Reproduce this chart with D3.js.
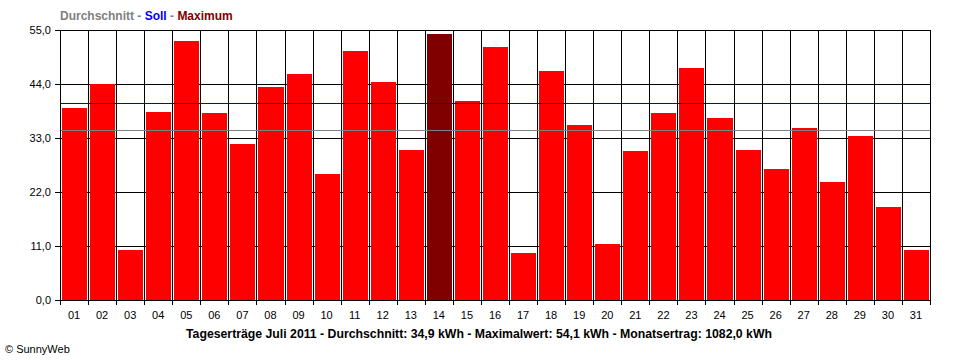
<!DOCTYPE html>
<html>
<head>
<meta charset="utf-8">
<script src="https://cdn.jsdelivr.net/npm/d3@7/dist/d3.min.js"></script>
<style>
  html, body { margin: 0; padding: 0; background: #fff; }
  svg { display: block; font-family: "Liberation Sans", Arial, sans-serif; }
</style>
</head>
<body>
<svg id="chart" width="960" height="360"></svg>
<script>
const days = ["01","02","03","04","05","06","07","08","09","10","11","12","13","14","15","16","17","18","19","20","21","22","23","24","25","26","27","28","29","30","31"];
const yields = [39.1,43.9,10.2,38.3,52.8,38.1,31.8,43.4,46.0,25.7,50.7,44.4,30.6,54.1,40.5,51.5,9.6,46.6,35.6,11.4,30.4,38.1,47.3,37.1,30.6,26.7,35.0,24.0,33.4,18.9,10.2];
const yTicks = [0, 11, 22, 33, 44, 55];
const average = 34.9;
const target = 40.0;
const maximum = 54.1;
const legendParts = [
  {text: "Durchschnitt", color: "#808080"},
  {text: " - ", color: "#808080"},
  {text: "Soll", color: "#0000ff"},
  {text: " - ", color: "#808080"},
  {text: "Maximum", color: "#800000"}
];
const title = "Tageserträge Juli 2011 - Durchschnitt: 34,9 kWh - Maximalwert: 54,1 kWh - Monatsertrag: 1082,0 kWh";
const credit = "© SunnyWeb";

const svg = d3.select("#chart");
const L = 60, R = 930, T = 30, B = 300;

const x = d3.scaleBand().domain(days).range([L, R]).padding(0);
const y = d3.scaleLinear().domain([0, 55]).range([B, T]);
const fmt = v => d3.format(".1f")(v).replace(".", ",");

// horizontal gridlines (behind bars)
svg.append("g").selectAll("line").data(yTicks).join("line")
  .attr("x1", L).attr("x2", R)
  .attr("y1", d => Math.round(y(d)) + 0.5).attr("y2", d => Math.round(y(d)) + 0.5)
  .attr("stroke", "#000").attr("stroke-width", 1);

// vertical gridlines at category boundaries
const bounds = days.map(d => x(d)).concat([R]);
svg.append("g").selectAll("line").data(bounds).join("line")
  .attr("x1", d => Math.round(d) + 0.5).attr("x2", d => Math.round(d) + 0.5)
  .attr("y1", T).attr("y2", B + 5)
  .attr("stroke", "#000").attr("stroke-width", 1);

// bars
svg.append("g").selectAll("rect").data(days).join("rect")
  .attr("x", d => Math.round(x(d)) + 2)
  .attr("width", d => Math.round(x(d) + x.bandwidth()) - Math.round(x(d)) - 3)
  .attr("y", (d, i) => Math.round(y(yields[i])))
  .attr("height", (d, i) => B + 1 - Math.round(y(yields[i])))
  .attr("fill", (d, i) => yields[i] === maximum ? "#800000" : "#ff0000");

// target (Soll) and average lines
svg.append("line")
  .attr("x1", L).attr("x2", R)
  .attr("y1", Math.floor(y(target)) + 0.5).attr("y2", Math.floor(y(target)) + 0.5)
  .attr("stroke", "#0000cc").attr("stroke-width", 1);
svg.append("line")
  .attr("x1", L).attr("x2", R)
  .attr("y1", Math.round(y(average)) + 1.5).attr("y2", Math.round(y(average)) + 1.5)
  .attr("stroke", "#808080").attr("stroke-width", 1);

// y axis
const yAxis = svg.append("g").attr("transform", `translate(${L},0)`)
  .call(d3.axisLeft(y).tickValues(yTicks).tickFormat(fmt).tickSize(5).tickSizeOuter(0).tickPadding(4));
yAxis.selectAll("text").attr("font-size", 11).attr("fill", "#000").style("font-family", "'Liberation Sans', Arial, sans-serif");
yAxis.selectAll("line, path").attr("stroke", "#000");

// x axis baseline and labels
const xAxis = svg.append("g").attr("transform", `translate(0,${B})`)
  .call(d3.axisBottom(x).tickSize(0).tickSizeOuter(0).tickPadding(11));
xAxis.select(".domain").attr("stroke", "#000");
xAxis.selectAll("text").attr("font-size", 11).attr("fill", "#000").style("font-family", "'Liberation Sans', Arial, sans-serif");

// legend
const leg = svg.append("text").attr("x", 60).attr("y", 20)
  .attr("font-size", 12).attr("font-weight", "bold");
leg.selectAll("tspan").data(legendParts).join("tspan")
  .text(d => d.text).attr("fill", d => d.color);

// title
svg.append("text").attr("x", 186).attr("y", 338)
  .attr("font-size", 12).attr("font-weight", "bold").attr("fill", "#000")
  .attr("textLength", 586).attr("lengthAdjust", "spacingAndGlyphs")
  .text(title);

// credit
svg.append("text").attr("x", 5).attr("y", 353)
  .attr("font-size", 11).attr("fill", "#000")
  .text(credit);
</script>
</body>
</html>
